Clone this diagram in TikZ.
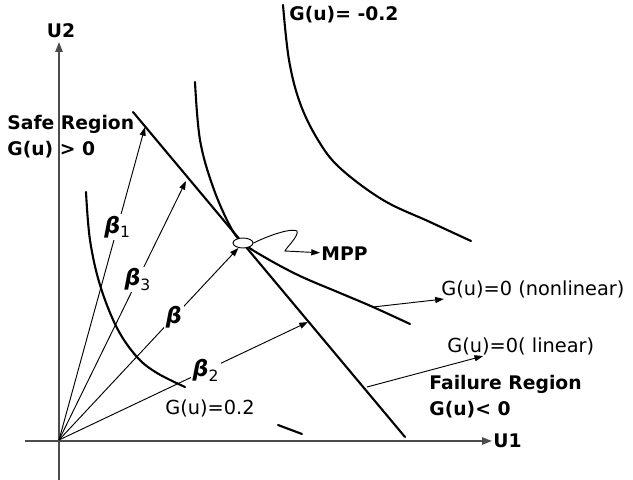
\documentclass[tikz,border=0pt]{standalone}
\usepackage{fontspec}
\setmainfont{DejaVu Sans}
\usetikzlibrary{arrows.meta, positioning, shapes.geometric}

\newcommand{\bsub}[1]{\textsubscript{\upshape\mdseries #1}}

\begin{document}
\begin{tikzpicture}[
  x=0.03cm, y=-0.03cm,
  font=\fontsize{16.5}{22}\selectfont,
  axis/.style={line width=1.4pt, black!70, -{Triangle[length=3mm, width=2.2mm]}},
  curve/.style={line width=1.8pt, line cap=round},
  ray/.style={line width=0.8pt, -{Triangle[length=2.6mm, width=1.8mm]}},
  pointer/.style={line width=0.8pt, -{Triangle[length=2.6mm, width=1.8mm]}},
  beta/.style={fill=white, inner sep=1.5pt, font=\fontsize{19}{19}\selectfont\bfseries\itshape},
  lbl/.style={inner sep=1pt, align=left, anchor=west},
  head/.style={font=\fontsize{16}{22}\selectfont\bfseries}
]
  \useasboundingbox (0,0) rectangle (633,480);

  % axes
  \coordinate (O) at (59,440);
  \draw[axis] (59,480) -- (59,42);
  \draw[axis] (25,441) -- (492,441);
  \node[head] (u2) at (61,31) {U2};
  \node[lbl, head] (u1) at (492,441) {U1};

  % limit state curves
  \draw[curve] plot[smooth, tension=0.6] coordinates {(283,5) (289,60) (300,103) (318,140) (340,168) (383,200) (430,222) (471,241)};
  \draw[curve] plot[smooth, tension=0.6] coordinates {(195,82) (200,140) (213,187) (230,226) (243,243) (266,258) (300,276) (340,293) (373,307) (410,324)};
  \draw[curve] plot[smooth, tension=0.6] coordinates {(86,192) (90,240) (100,285) (117,328) (137,357) (157,373) (185,387)};
  \coordinate (L1) at (133,112);
  \coordinate (L2) at (405,437);
  \draw[curve] (L1) -- (L2);
  \draw[curve] (278,425) -- (302,434);

  % design point
  \node[draw, ellipse, fill=white, line width=0.8pt, minimum width=0.6cm, minimum height=0.3cm, inner sep=0pt] (mpp) at (243,243) {};

  % reliability index vectors
  \coordinate (t1) at (145,127);
  \coordinate (t3) at (186,181);
  \coordinate (t2) at (308,322);
  \draw[ray] (O) -- node[beta, pos=.68] (b1) {β\bsub{1}} (t1);
  \draw[ray] (O) -- node[beta, pos=.62] (b3) {β\bsub{3}} (t3);
  \draw[ray] (O) -- node[beta, pos=.64] (b) {β} (mpp);
  \draw[ray] (O) -- node[beta, pos=.59] (b2) {β\bsub{2}} (t2);

  % labels
  \node[lbl, head] (gneg) at (288,15) {G(u)= -0.2};
  \node[lbl, head] (safe) at (6,137) {Safe Region\\G(u) > 0};
  \node[lbl, head] (fail) at (428,397) {Failure Region\\G(u)< 0};
  \node[lbl] (nonlin) at (440,289) {G(u)=0 (nonlinear)};
  \node[lbl] (lin) at (446,346) {G(u)=0( linear)};
  \node (gpos) at (210,408) {G(u)=0.2};
  \node[lbl, head] (mppl) at (320,254) {MPP};

  % pointers
  \coordinate (pn) at (373,307);
  \coordinate (pl) at (367,387);
  \draw[pointer] (pn) -- (nonlin);
  \draw[pointer] (pl) -- (lin);
  \draw[pointer] (mpp.east) .. controls (272,234) and (292,228) .. (297,231) .. controls (299,236) and (286,248) .. (285,251) -- (mppl);
\end{tikzpicture}
\end{document}
